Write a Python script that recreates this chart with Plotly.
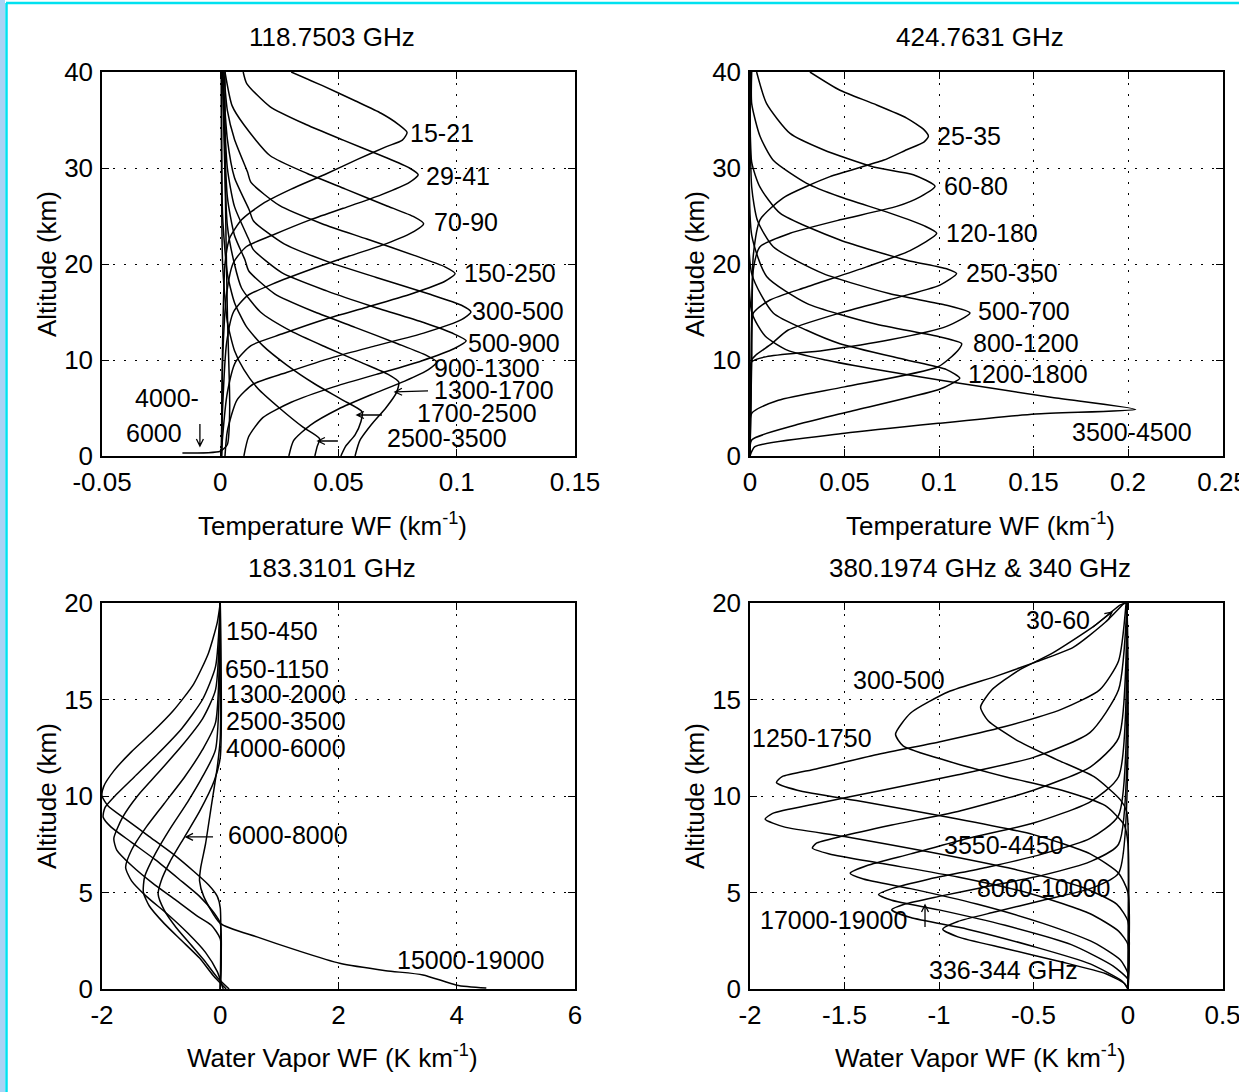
import plotly.graph_objects as go

W, H = 1239, 1092

# ---------------- Panel 1: 118.7503 GHz temperature WF ----------------
T118_15_21_X = [0.030, 0.043, 0.057, 0.068, 0.075, 0.079, 0.077, 0.070, 0.058, 0.044, 0.030, 0.018, 0.009, 0.004, 0.002, 0.001, 0.0005]
T118_15_21_H = [40.0, 38.6, 37.0, 35.7, 34.6, 33.7, 32.9, 32.2, 30.9, 29.3, 27.8, 26.3, 24.6, 22.7, 20.0, 12.0, 0.0]
T118_29_41_X = [0.0097, 0.0112, 0.021, 0.0365, 0.052, 0.069, 0.080, 0.0837, 0.080, 0.068, 0.052, 0.038, 0.022, 0.011, 0.0055, 0.0027, 0.001, 0.0005]
T118_29_41_H = [40.0, 38.8, 36.4, 34.5, 32.9, 31.2, 30.0, 29.3, 28.5, 27.2, 25.8, 24.6, 23.0, 21.8, 20.1, 16.9, 10.0, 0.0]
T118_70_90_X = [0.002, 0.005, 0.010, 0.021, 0.037, 0.053, 0.070, 0.082, 0.086, 0.082, 0.070, 0.053, 0.039, 0.022, 0.0115, 0.0056, 0.0027, 0.001, 0.0005]
T118_70_90_H = [40.0, 36.5, 34.5, 31.3, 29.4, 27.8, 26.1, 24.9, 24.2, 23.4, 22.1, 20.7, 19.5, 17.9, 16.7, 15.0, 11.8, 5.0, 0.0]
T118_150_250_X = [0.0015, 0.003, 0.006, 0.0115, 0.013, 0.025, 0.043, 0.062, 0.082, 0.095, 0.0993, 0.095, 0.081, 0.062, 0.045, 0.026, 0.013, 0.0065, 0.003, 0.001, 0.0005]
T118_150_250_H = [40.0, 36.0, 33.0, 29.6, 28.5, 26.1, 24.2, 22.6, 20.9, 19.7, 19.0, 18.2, 16.9, 15.5, 14.3, 12.7, 11.5, 9.8, 6.6, 2.0, 0.0]
T118_300_500_X = [0.001, 0.003, 0.006, 0.0123, 0.014, 0.027, 0.046, 0.066, 0.088, 0.102, 0.106, 0.102, 0.086, 0.066, 0.048, 0.028, 0.014, 0.007, 0.003, 0.002]
T118_300_500_H = [40.0, 33.0, 29.0, 25.6, 24.5, 22.1, 20.2, 18.6, 16.9, 15.7, 15.0, 14.2, 12.8, 11.5, 10.3, 8.7, 7.5, 5.8, 2.6, 0.0]
T118_500_900_X = [0.001, 0.003, 0.006, 0.012, 0.014, 0.026, 0.045, 0.064, 0.086, 0.099, 0.104, 0.099, 0.085, 0.066, 0.048, 0.030, 0.018, 0.012, 0.010]
T118_500_900_H = [40.0, 30.0, 26.0, 22.6, 21.5, 19.1, 17.2, 15.6, 13.9, 12.7, 12.0, 11.2, 9.9, 8.5, 7.2, 5.6, 4.0, 2.0, 0.0]
T118_900_1300_X = [0.001, 0.003, 0.006, 0.0105, 0.012, 0.023, 0.040, 0.057, 0.075, 0.087, 0.0915, 0.088, 0.078, 0.064, 0.050, 0.038, 0.031, 0.029]
T118_900_1300_H = [40.0, 27.0, 23.0, 20.4, 19.3, 16.9, 15.0, 13.4, 11.7, 10.5, 9.8, 9.0, 7.8, 6.4, 4.9, 3.2, 1.6, 0.0]
T118_1300_1700_X = [0.001, 0.003, 0.006, 0.009, 0.017, 0.030, 0.045, 0.060, 0.071, 0.0755, 0.0745, 0.070, 0.064, 0.059, 0.057]
T118_1300_1700_H = [40.0, 24.0, 20.0, 17.5, 15.0, 13.0, 11.3, 9.7, 8.5, 7.7, 6.6, 5.0, 3.3, 1.6, 0.0]
T118_1700_2500_X = [0.0005, 0.001, 0.003, 0.006, 0.011, 0.018, 0.028, 0.040, 0.052, 0.060, 0.0595, 0.057, 0.053, 0.051]
T118_1700_2500_H = [40.0, 25.0, 19.0, 16.0, 13.5, 11.5, 9.5, 7.5, 5.8, 4.6, 3.6, 2.2, 1.0, 0.0]
T118_2500_3500_X = [0.0005, 0.001, 0.003, 0.006, 0.010, 0.016, 0.025, 0.035, 0.042, 0.041, 0.040]
T118_2500_3500_H = [40.0, 20.0, 14.0, 11.0, 9.0, 7.0, 5.0, 3.0, 1.8, 1.0, 0.0]
T118_4000_6000_X = [0.002, 0.002, 0.003, 0.004, 0.003, 0.0, -0.016]
T118_4000_6000_H = [40.0, 30.0, 15.0, 5.0, 1.2, 0.5, 0.3]

# ---------------- Panel 2: 424.7631 GHz temperature WF ----------------
T424_25_35_X = [0.0317, 0.0476, 0.0653, 0.0829, 0.092, 0.0944, 0.092, 0.0829, 0.0705, 0.0423, 0.0176, 0.0053, 0.0018, 0.0009, 0.0]
T424_25_35_H = [40.0, 38.1, 36.7, 35.2, 34.0, 33.3, 32.7, 31.9, 30.8, 29.1, 26.9, 24.6, 21.0, 15.0, 0.0]
T424_60_80_X = [0.0035, 0.0088, 0.0212, 0.0388, 0.0653, 0.0864, 0.0979, 0.090, 0.0776, 0.0476, 0.0212, 0.0053, 0.0018, 0.0009, 0.0]
T424_60_80_H = [40.0, 36.7, 33.6, 31.9, 30.1, 29.3, 28.1, 27.0, 26.0, 24.6, 23.2, 21.8, 19.5, 12.0, 0.0]
T424_120_180_X = [0.0009, 0.0009, 0.0053, 0.0123, 0.030, 0.0476, 0.0741, 0.092, 0.0988, 0.0847, 0.0617, 0.030, 0.0106, 0.0018, 0.0009, 0.0]
T424_120_180_H = [40.0, 36.7, 33.3, 30.8, 28.4, 27.0, 25.3, 24.0, 23.2, 21.4, 19.7, 17.6, 16.25, 14.9, 10.0, 0.0]
T424_250_350_X = [0.0, 0.0009, 0.0053, 0.0159, 0.0476, 0.0829, 0.104, 0.1093, 0.1005, 0.0741, 0.0476, 0.020, 0.0115, 0.003, 0.0009, 0.0]
T424_250_350_H = [40.0, 30.6, 28.0, 25.3, 22.5, 20.4, 19.5, 19.0, 17.8, 16.3, 14.9, 13.1, 11.7, 10.5, 10.0, 0.0]
T424_500_700_X = [0.0, 0.0009, 0.004, 0.0123, 0.0388, 0.0741, 0.104, 0.1164, 0.104, 0.0741, 0.0388, 0.0088, 0.0009, 0.0]
T424_500_700_H = [40.0, 28.0, 24.5, 21.8, 19.0, 16.9, 15.7, 14.9, 13.5, 12.1, 11.0, 10.35, 9.8, 0.0]
T424_800_1200_X = [0.0, 0.0009, 0.0088, 0.030, 0.0653, 0.1005, 0.112, 0.110, 0.0996, 0.050, 0.015, 0.0009, 0.0]
T424_800_1200_H = [40.0, 23.0, 18.7, 15.9, 13.8, 12.4, 11.7, 11.0, 9.3, 7.2, 5.8, 4.45, 0.0]
T424_1200_1800_X = [0.0, 0.0009, 0.0123, 0.030, 0.0476, 0.0829, 0.104, 0.111, 0.107, 0.0996, 0.050, 0.0238, 0.0009, 0.0]
T424_1200_1800_H = [40.0, 19.0, 14.9, 13.1, 11.7, 10.0, 9.0, 8.1, 7.57, 6.9, 4.5, 3.2, 1.67, 0.0]
T424_3500_4500_X = [0.0, 0.0009, 0.008, 0.020, 0.040, 0.070, 0.110, 0.160, 0.204, 0.151, 0.0996, 0.050, 0.0026, 0.0]
T424_3500_4500_H = [40.0, 15.0, 12.5, 11.0, 10.0, 8.9, 7.6, 6.1, 4.86, 4.37, 3.4, 2.36, 0.97, 0.0]

# ---------------- Panel 3: 183.3101 GHz water vapour WF ----------------
W183_150_450_X = [0.0, -0.05, -0.2, -0.45, -0.8, -1.15, -1.5, -1.8, -1.97, -2.0, -1.9, -1.6, -1.2, -0.8, -0.45, -0.2, -0.05, 0.0, 0.0]
W183_150_450_H = [20.0, 19.0, 17.4, 15.8, 14.4, 13.3, 12.3, 11.3, 10.5, 10.0, 9.5, 8.8, 7.9, 7.0, 6.1, 5.4, 4.8, 4.2, 0.0]
W183_650_1150_X = [0.0, -0.08, -0.3, -0.65, -1.05, -1.45, -1.75, -1.95, -1.98, -1.85, -1.5, -1.1, -0.7, -0.35, -0.12, 0.0, 0.0]
W183_650_1150_H = [20.0, 16.7, 15.0, 13.5, 12.2, 11.0, 10.1, 9.4, 8.9, 8.4, 7.6, 6.7, 5.7, 4.8, 4.0, 3.4, 0.0]
W183_1300_2000_X = [0.0, -0.08, -0.3, -0.65, -1.05, -1.4, -1.65, -1.8, -1.75, -1.5, -1.15, -0.75, -0.4, -0.15, 0.0, 0.0]
W183_1300_2000_H = [20.0, 15.5, 14.0, 12.6, 11.2, 10.0, 8.9, 7.8, 7.2, 6.4, 5.5, 4.6, 3.8, 3.3, 2.6, 0.0]
W183_2500_3500_X = [0.0, -0.08, -0.3, -0.6, -0.95, -1.25, -1.5, -1.6, -1.5, -1.25, -0.9, -0.55, -0.25, -0.05, 0.05]
W183_2500_3500_H = [20.0, 13.8, 12.4, 11.0, 9.6, 8.4, 7.2, 6.3, 5.6, 4.8, 3.9, 2.9, 1.9, 0.9, 0.0]
W183_4000_6000_X = [0.0, -0.08, -0.3, -0.55, -0.85, -1.1, -1.28, -1.3, -1.2, -0.95, -0.65, -0.35, -0.12, 0.1]
W183_4000_6000_H = [20.0, 12.4, 11.0, 9.7, 8.3, 7.0, 5.8, 5.0, 4.3, 3.4, 2.5, 1.6, 0.7, 0.0]
W183_6000_8000_X = [0.0, 0.0, -0.1, -0.35, -0.6, -0.85, -1.0, -1.05, -0.95, -0.75, -0.5, -0.25, -0.05, 0.15]
W183_6000_8000_H = [20.0, 12.0, 10.8, 9.2, 7.9, 6.6, 5.6, 4.9, 4.1, 3.2, 2.3, 1.4, 0.6, 0.0]
W183_15000_19000_X = [0.0, 0.0, -0.05, -0.15, -0.25, -0.33, -0.35, -0.28, 0.0, 0.62, 1.3, 2.02, 2.8, 3.43, 4.0, 4.5]
W183_15000_19000_H = [20.0, 13.0, 11.5, 9.5, 7.5, 6.3, 5.6, 4.8, 3.4, 2.7, 2.0, 1.33, 0.95, 0.73, 0.2, 0.05]

# ---------------- Panel 4: 380.1974 GHz & 340 GHz water vapour WF ----------------
W380_30_60_X = [-0.01, -0.04, -0.18, -0.40, -0.58, -0.72, -0.78, -0.74, -0.59, -0.38, -0.18, -0.04, -0.007, 0.0, 0.0]
W380_30_60_H = [20.0, 19.9, 18.8, 17.4, 16.5, 15.5, 14.6, 13.9, 12.9, 11.9, 11.0, 9.8, 9.2, 8.5, 0.0]
W380_300_500_X = [-0.02, -0.12, -0.29, -0.5, -0.7, -0.95, -1.15, -1.23, -1.19, -0.95, -0.65, -0.35, -0.12, -0.02, 0.0, 0.0]
W380_300_500_H = [20.0, 19.0, 17.7, 16.9, 16.2, 15.4, 14.3, 13.2, 12.6, 11.8, 11.0, 10.3, 9.5, 8.5, 7.5, 0.0]
W380_1250_1750_X = [-0.01, -0.05, -0.15, -0.35, -0.65, -1.0, -1.35, -1.65, -1.83, -1.86, -1.75, -1.4, -0.95, -0.5, -0.2, -0.05, 0.0, 0.0]
W380_1250_1750_H = [20.0, 17.0, 15.5, 14.5, 13.6, 12.8, 12.1, 11.4, 11.0, 10.7, 10.3, 9.7, 8.9, 8.0, 7.0, 6.0, 5.0, 0.0]
W380_B4_X = [-0.005, -0.05, -0.2, -0.5, -0.9, -1.3, -1.65, -1.88, -1.92, -1.82, -1.5, -1.05, -0.6, -0.25, -0.06, 0.0, 0.0]
W380_B4_H = [20.0, 15.5, 13.3, 12.0, 11.1, 10.3, 9.6, 9.1, 8.8, 8.4, 7.9, 7.1, 6.2, 5.3, 4.4, 3.5, 0.0]
W380_B5_X = [-0.005, -0.05, -0.2, -0.5, -0.9, -1.25, -1.52, -1.65, -1.67, -1.58, -1.3, -0.9, -0.5, -0.2, -0.05, 0.0, 0.0]
W380_B5_H = [20.0, 13.0, 11.5, 10.3, 9.2, 8.5, 7.9, 7.55, 7.3, 7.0, 6.5, 5.8, 4.9, 3.9, 3.0, 2.3, 0.0]
W380_3550_4450_X = [-0.005, -0.05, -0.2, -0.5, -0.85, -1.15, -1.38, -1.47, -1.4, -1.15, -0.8, -0.45, -0.18, -0.04, 0.0, 0.0]
W380_3550_4450_H = [20.0, 11.0, 9.7, 8.6, 7.8, 7.0, 6.4, 6.0, 5.7, 5.2, 4.4, 3.4, 2.4, 1.5, 0.8, 0.0]
W380_8000_10000_X = [-0.005, -0.05, -0.2, -0.45, -0.75, -1.05, -1.25, -1.32, -1.25, -1.0, -0.65, -0.3, -0.08, 0.0, 0.0]
W380_8000_10000_H = [20.0, 9.0, 7.8, 7.0, 6.3, 5.7, 5.2, 4.9, 4.6, 4.1, 3.3, 2.3, 1.2, 0.5, 0.0]
W380_17000_19000_X = [-0.005, -0.05, -0.2, -0.45, -0.75, -1.0, -1.18, -1.25, -1.15, -0.85, -0.5, -0.2, -0.03, 0.0]
W380_17000_19000_H = [20.0, 7.5, 6.6, 5.9, 5.3, 4.8, 4.4, 4.1, 3.7, 3.1, 2.2, 1.3, 0.4, 0.0]
W340_336_344_X = [-0.005, -0.05, -0.2, -0.45, -0.7, -0.9, -0.98, -0.9, -0.65, -0.35, -0.12, -0.02, 0.0]
W340_336_344_H = [20.0, 6.0, 5.2, 4.6, 4.0, 3.5, 3.1, 2.7, 2.1, 1.4, 0.8, 0.3, 0.0]

# ---------------- labels ----------------
P1_LABELS = ["15-21", "29-41", "70-90", "150-250", "300-500", "500-900", "900-1300", "1300-1700", "1700-2500", "2500-3500", "4000-", "6000"]
P1_LAB_X = [0.0795, 0.0862, 0.0895, 0.1022, 0.1056, 0.1040, 0.0895, 0.0895, 0.0822, 0.0695, -0.0371, -0.0406]
P1_LAB_H = [33.6, 29.2, 24.4, 19.1, 15.1, 11.8, 9.2, 6.9, 4.5, 1.9, 6.0, 2.35]
P2_LABELS = ["25-35", "60-80", "120-180", "250-350", "500-700", "800-1200", "1200-1800", "3500-4500"]
P2_LAB_X = [0.0979, 0.1016, 0.1026, 0.1132, 0.1196, 0.1170, 0.1143, 0.1693]
P2_LAB_H = [33.3, 28.1, 23.2, 19.1, 15.1, 11.8, 8.5, 2.5]
P3_LABELS = ["150-450", "650-1150", "1300-2000", "2500-3500", "4000-6000", "6000-8000", "15000-19000"]
P3_LAB_X = [0.06, 0.05, 0.06, 0.06, 0.06, 0.10, 2.95]
P3_LAB_H = [18.55, 16.6, 15.3, 13.9, 12.5, 8.0, 1.5]
P4_LABELS = ["30-60", "300-500", "1250-1750", "3550-4450", "8000-10000", "17000-19000", "336-344 GHz"]
P4_LAB_X = [-0.55, -1.466, -2.0, -0.984, -0.81, -1.958, -1.063]
P4_LAB_H = [19.1, 16.0, 13.0, 7.46, 5.23, 3.58, 0.98]

# pointer arrows: axis suffix, head x, head altitude, tail offset dx, dy (pixels, y up)
ARROW_AX = ["", "", "", "", "3", "4", "4"]
ARROW_X = [0.0739, 0.0578, 0.0413, -0.0086, -0.579, -1.074, -0.0847]
ARROW_H = [6.67, 4.27, 1.56, 1.04, 7.88, 4.35, 19.53]
ARROW_DX = [33, 25, 20, 0, 27, 0, -19]
ARROW_DY = [1, 0, 0, 22, 0, -22, -15]

FONT = "Liberation Sans, Arial, Helvetica, sans-serif"

P1 = [(T118_15_21_X, T118_15_21_H), (T118_29_41_X, T118_29_41_H), (T118_70_90_X, T118_70_90_H),
      (T118_150_250_X, T118_150_250_H), (T118_300_500_X, T118_300_500_H), (T118_500_900_X, T118_500_900_H),
      (T118_900_1300_X, T118_900_1300_H), (T118_1300_1700_X, T118_1300_1700_H),
      (T118_1700_2500_X, T118_1700_2500_H), (T118_2500_3500_X, T118_2500_3500_H),
      (T118_4000_6000_X, T118_4000_6000_H)]
P2 = [(T424_25_35_X, T424_25_35_H), (T424_60_80_X, T424_60_80_H), (T424_120_180_X, T424_120_180_H),
      (T424_250_350_X, T424_250_350_H), (T424_500_700_X, T424_500_700_H), (T424_800_1200_X, T424_800_1200_H),
      (T424_1200_1800_X, T424_1200_1800_H), (T424_3500_4500_X, T424_3500_4500_H)]
P3 = [(W183_150_450_X, W183_150_450_H), (W183_650_1150_X, W183_650_1150_H), (W183_1300_2000_X, W183_1300_2000_H),
      (W183_2500_3500_X, W183_2500_3500_H), (W183_4000_6000_X, W183_4000_6000_H),
      (W183_6000_8000_X, W183_6000_8000_H), (W183_15000_19000_X, W183_15000_19000_H)]
P4 = [(W380_30_60_X, W380_30_60_H), (W380_300_500_X, W380_300_500_H), (W380_1250_1750_X, W380_1250_1750_H),
      (W380_B4_X, W380_B4_H), (W380_B5_X, W380_B5_H), (W380_3550_4450_X, W380_3550_4450_H),
      (W380_8000_10000_X, W380_8000_10000_H), (W380_17000_19000_X, W380_17000_19000_H),
      (W340_336_344_X, W340_336_344_H)]

fig = go.Figure()
for idx, panel in enumerate([P1, P2, P3, P4]):
    sfx = "" if idx == 0 else str(idx + 1)
    for xs, hs in panel:
        fig.add_trace(go.Scatter(x=xs, y=hs, mode="lines", xaxis="x" + sfx, yaxis="y" + sfx,
                                 line=dict(color="black", width=1.5, shape="spline", smoothing=0.6),
                                 showlegend=False, hoverinfo="skip"))


def px_x(p):
    return p / W


def px_y(p):
    return 1 - p / H


def axis(rng, vals, texts, dom, anchor):
    return dict(domain=dom, range=rng, anchor=anchor, tickvals=vals, ticktext=texts, ticks="inside",
                ticklen=7, tickcolor="black", tickwidth=1.2, showline=True, linecolor="black", linewidth=1.5,
                mirror="ticks", showgrid=True, gridcolor="black", gridwidth=1.3, griddash="2px,9px",
                zeroline=False, automargin=False, tickfont=dict(family=FONT, size=26, color="black"),
                ticklabelstandoff=2, ticklabeloverflow="allow")


XD1 = [px_x(102), px_x(575)]
XD2 = [px_x(750), px_x(1222.5)]
YD1 = [px_y(456), px_y(72)]
YD2 = [px_y(989), px_y(603)]

fig.update_layout(
    template="none",
    width=W, height=H, margin=dict(l=0, r=0, t=0, b=0, pad=0), autosize=False,
    paper_bgcolor="white", plot_bgcolor="white", showlegend=False, hovermode=False,
    xaxis=axis([-0.05, 0.15], [-0.05, 0, 0.05, 0.1, 0.15], ["-0.05", "0", "0.05", "0.1", "0.15"], XD1, "y"),
    yaxis=axis([0, 40], [0, 10, 20, 30, 40], ["0", "10", "20", "30", "40"], YD1, "x"),
    xaxis2=axis([0, 0.25], [0, 0.05, 0.1, 0.15, 0.2, 0.25], ["0", "0.05", "0.1", "0.15", "0.2", "0.25"], XD2, "y2"),
    yaxis2=axis([0, 40], [0, 10, 20, 30, 40], ["0", "10", "20", "30", "40"], YD1, "x2"),
    xaxis3=axis([-2, 6], [-2, 0, 2, 4, 6], ["-2", "0", "2", "4", "6"], XD1, "y3"),
    yaxis3=axis([0, 20], [0, 5, 10, 15, 20], ["0", "5", "10", "15", "20"], YD2, "x3"),
    xaxis4=axis([-2, 0.5], [-2, -1.5, -1, -0.5, 0, 0.5], ["-2", "-1.5", "-1", "-0.5", "0", "0.5"], XD2, "y4"),
    yaxis4=axis([0, 20], [0, 5, 10, 15, 20], ["0", "5", "10", "15", "20"], YD2, "x4"),
)

ann = []
tf = dict(family=FONT, size=26, color="black")
lf = dict(family=FONT, size=25, color="black")
for txt, cx, cy in [("118.7503 GHz", 332, 37), ("424.7631 GHz", 980, 37),
                    ("183.3101 GHz", 332, 568), ("380.1974 GHz &amp; 340 GHz", 980, 568)]:
    ann.append(dict(text=txt, x=px_x(cx), y=px_y(cy), xref="paper", yref="paper", showarrow=False,
                    xanchor="center", yanchor="middle", font=tf))
for txt, cx, cy in [("Temperature WF (km<sup>-1</sup>)", 333, 524), ("Temperature WF (km<sup>-1</sup>)", 980, 524),
                    ("Water Vapor WF (K km<sup>-1</sup>)", 333, 1056), ("Water Vapor WF (K km<sup>-1</sup>)", 980, 1056)]:
    ann.append(dict(text=txt, x=px_x(cx), y=px_y(cy), xref="paper", yref="paper", showarrow=False,
                    xanchor="center", yanchor="middle", font=tf))
for cx, cy in [(47, 264), (695, 264), (47, 796), (695, 796)]:
    ann.append(dict(text="Altitude (km)", x=px_x(cx), y=px_y(cy), xref="paper", yref="paper", showarrow=False,
                    xanchor="center", yanchor="middle", textangle=-90, font=tf))

for sfx, labs, lx, lh in [("", P1_LABELS, P1_LAB_X, P1_LAB_H), ("2", P2_LABELS, P2_LAB_X, P2_LAB_H),
                          ("3", P3_LABELS, P3_LAB_X, P3_LAB_H), ("4", P4_LABELS, P4_LAB_X, P4_LAB_H)]:
    for t, x, h in zip(labs, lx, lh):
        ann.append(dict(text=t, x=x, y=h, xref="x" + sfx, yref="y" + sfx, showarrow=False,
                        xanchor="left", yanchor="middle", font=lf))
fig.update_layout(annotations=ann)

# arrows drawn as pixel-sized path shapes anchored at the arrow head
for sfx, x, h, dx, dy in zip(ARROW_AX, ARROW_X, ARROW_H, ARROW_DX, ARROW_DY):
    L = (dx * dx + dy * dy) ** 0.5
    ux, uy = dx / L, dy / L
    hl, hw = 7.0, 3.5
    p1 = (ux * hl - uy * hw, uy * hl + ux * hw)
    p2 = (ux * hl + uy * hw, uy * hl - ux * hw)
    path = "M 0,0 L {:.2f},{:.2f} M {:.2f},{:.2f} L 0,0 L {:.2f},{:.2f}".format(dx, dy, p1[0], p1[1], p2[0], p2[1])
    fig.add_shape(type="path", path=path, xref="x" + sfx, yref="y" + sfx, xsizemode="pixel", ysizemode="pixel",
                  xanchor=x, yanchor=h, line=dict(color="black", width=1.3))

# window border (cyan frame on left/top)
fig.add_shape(type="rect", xref="paper", yref="paper", x0=0, x1=px_x(5), y0=0, y1=1,
              fillcolor="#a9d3f5", line=dict(width=0), layer="above")
fig.add_shape(type="line", xref="paper", yref="paper", x0=px_x(6.5), x1=px_x(6.5), y0=0, y1=px_y(3),
              line=dict(color="#00e1f0", width=2.5), layer="above")
fig.add_shape(type="line", xref="paper", yref="paper", x0=px_x(6), x1=1, y0=px_y(3), y1=px_y(3),
              line=dict(color="#00e1f0", width=2.5), layer="above")

fig.write_html("out.html")
